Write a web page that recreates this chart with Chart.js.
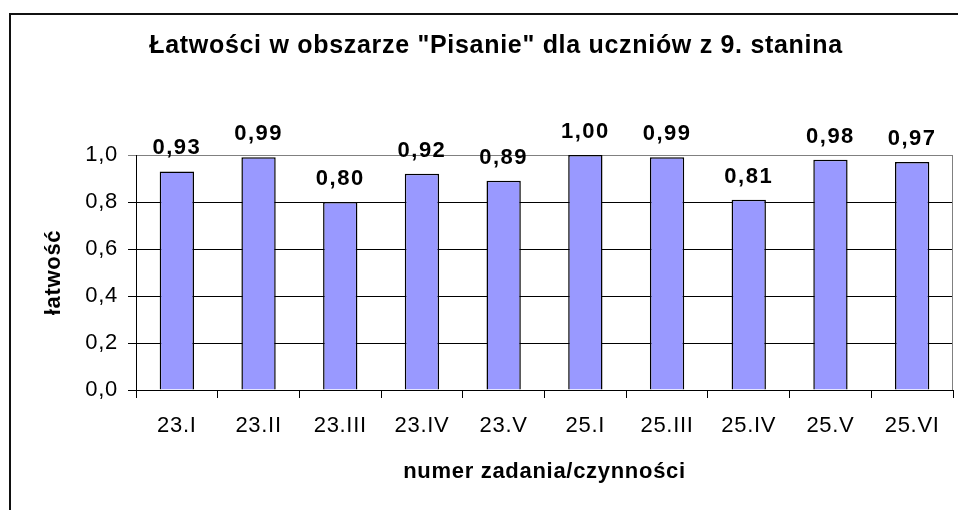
<!DOCTYPE html>
<html lang="pl">
<head>
  <meta charset="UTF-8">
  <title>Łatwości w obszarze "Pisanie"</title>
  <script src="https://cdn.jsdelivr.net/npm/chart.js"></script>
  <style>
    body {
      margin: 0;
      background-color: #fff;
      overflow: hidden;
    }
    #wrap {
      position: relative;
      width: 958px;
      height: 510px;
    }
    #frame {
      position: absolute;
      left: 9px;
      top: 13px;
      width: 1000px;
      height: 600px;
      border-left: 2px solid #111;
      border-top: 2px solid #111;
      pointer-events: none;
    }
  </style>
</head>
<body>
  <div id="wrap">
    <canvas id="chart" width="958" height="510"></canvas>
    <div id="frame"></div>
  </div>

  <script>
    const categories = ['23.I', '23.II', '23.III', '23.IV', '23.V', '25.I', '25.III', '25.IV', '25.V', '25.VI'];
    const values = [0.93, 0.99, 0.80, 0.92, 0.89, 1.00, 0.99, 0.81, 0.98, 0.97];
    const yTicks = [0, 0.2, 0.4, 0.6, 0.8, 1.0];

    const fontFamily = '"Liberation Sans", Arial, sans-serif';
    const comma = (v, d) => v.toFixed(d).replace('.', ',');

    // spacing between letters, the original text is spread out a bit
    const spacing = {
      id: 'spacing',
      beforeUpdate(chart) { chart.ctx.letterSpacing = '0.7px'; },
      beforeDraw(chart) { chart.ctx.letterSpacing = '0.7px'; }
    };

    // value labels above the bars + gray right edge of plot area
    const barLabels = {
      id: 'barLabels',
      afterDatasetsDraw(chart) {
        const ctx = chart.ctx;
        const area = chart.chartArea;
        ctx.save();
        ctx.strokeStyle = '#808080';
        ctx.lineWidth = 1;
        ctx.beginPath();
        ctx.moveTo(Math.round(area.right) - 0.5, area.top);
        ctx.lineTo(Math.round(area.right) - 0.5, area.bottom);
        ctx.stroke();

        ctx.letterSpacing = '1.5px';
        ctx.font = 'bold 22px ' + fontFamily;
        ctx.fillStyle = '#000';
        ctx.textAlign = 'center';
        ctx.textBaseline = 'alphabetic';
        const meta = chart.getDatasetMeta(0);
        meta.data.forEach((bar, i) => {
          ctx.fillText(comma(values[i], 2), bar.x, bar.y - 17);
        });
        ctx.restore();
      }
    };

    const ctx = document.getElementById('chart').getContext('2d');
    new Chart(ctx, {
      type: 'bar',
      data: {
        labels: categories,
        datasets: [{
          data: values,
          backgroundColor: '#9999ff',
          borderColor: '#000',
          borderWidth: 1.5,
          barPercentage: 0.42,
          categoryPercentage: 1
        }]
      },
      options: {
        responsive: false,
        animation: false,
        devicePixelRatio: 1,
        layout: {
          padding: { left: 39, right: 5, top: 0, bottom: 25 }
        },
        plugins: {
          legend: { display: false },
          tooltip: { enabled: false },
          title: {
            display: true,
            text: 'Łatwości w obszarze "Pisanie" dla uczniów z 9. stanina',
            color: '#000',
            font: { family: fontFamily, size: 25, weight: 'bold' },
            padding: { top: 31, bottom: 94 }
          }
        },
        scales: {
          x: {
            afterFit(scale) { scale.height = 95; },
            grid: {
              drawOnChartArea: false,
              drawTicks: true,
              tickLength: 8,
              color: '#000'
            },
            border: { display: true, color: '#000' },
            ticks: {
              color: '#000',
              padding: 15,
              font: { family: fontFamily, size: 22 }
            },
            title: {
              display: true,
              text: 'numer zadania/czynności',
              color: '#000',
              font: { family: fontFamily, size: 22, weight: 'bold' },
              padding: { top: 0, bottom: 0 }
            }
          },
          y: {
            min: 0,
            max: 1,
            afterFit(scale) { scale.width = 97; },
            afterBuildTicks(scale) {
              scale.ticks = yTicks.map(v => ({ value: v }));
            },
            grid: {
              color: c => (c.tick && c.tick.value === 1 ? '#808080' : '#000'),
              tickLength: 8
            },
            border: { display: true, color: '#000' },
            ticks: {
              color: '#000',
              padding: 10,
              font: { family: fontFamily, size: 22 },
              callback: v => comma(v, 1)
            },
            title: {
              display: true,
              text: 'łatwość',
              color: '#000',
              font: { family: fontFamily, size: 22, weight: 'bold' },
              padding: { top: 2, bottom: 0 }
            }
          }
        }
      },
      plugins: [spacing, barLabels]
    });
  </script>
</body>
</html>
